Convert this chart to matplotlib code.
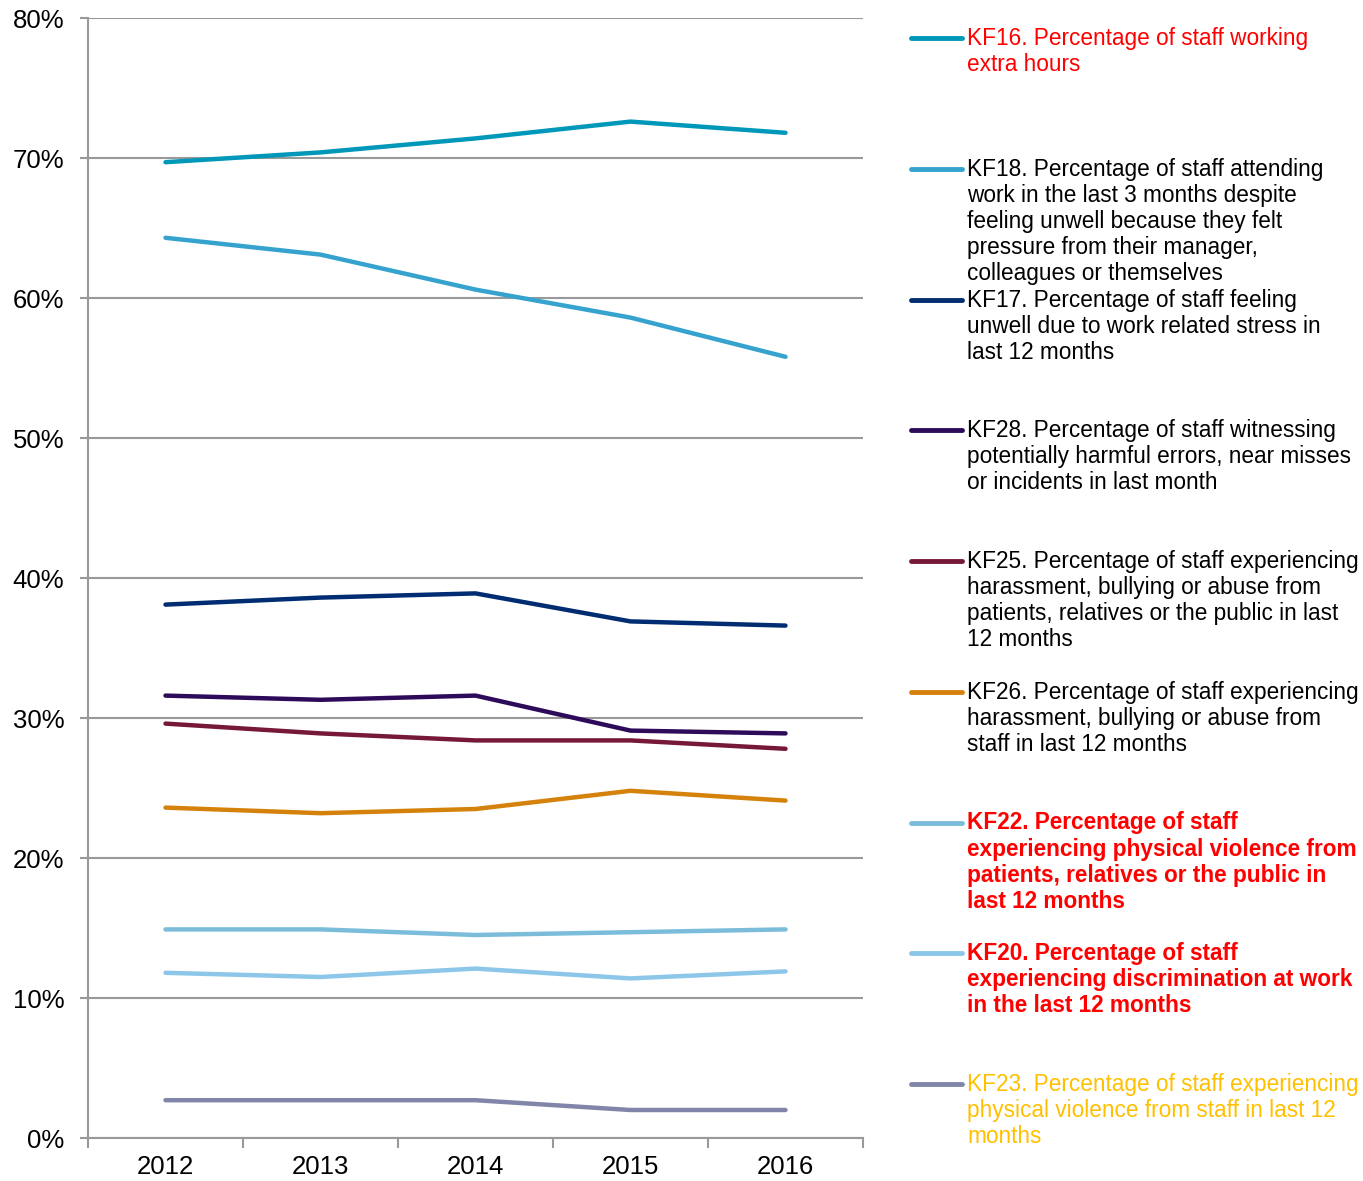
import matplotlib.pyplot as plt
from matplotlib.lines import Line2D

plt.rcParams['font.family'] = ['Liberation Sans', 'DejaVu Sans']

years = ['2012', '2013', '2014', '2015', '2016']

kf16 = [69.7, 70.4, 71.4, 72.6, 71.8]
kf18 = [64.3, 63.1, 60.6, 58.6, 55.8]
kf17 = [38.1, 38.6, 38.9, 36.9, 36.6]
kf28 = [31.6, 31.3, 31.6, 29.1, 28.9]
kf25 = [29.6, 28.9, 28.4, 28.4, 27.8]
kf26 = [23.6, 23.2, 23.5, 24.8, 24.1]
kf22 = [14.9, 14.9, 14.5, 14.7, 14.9]
kf20 = [11.8, 11.5, 12.1, 11.4, 11.9]
kf23 = [2.7, 2.7, 2.7, 2.0, 2.0]

labels = [
    "KF16. Percentage of staff working\nextra hours",
    "KF18. Percentage of staff attending\nwork in the last 3 months despite\nfeeling unwell because they felt\npressure from their manager,\ncolleagues or themselves",
    "KF17. Percentage of staff feeling\nunwell due to work related stress in\nlast 12 months",
    "KF28. Percentage of staff witnessing\npotentially harmful errors, near misses\nor incidents in last month",
    "KF25. Percentage of staff experiencing\nharassment, bullying or abuse from\npatients, relatives or the public in last\n12 months",
    "KF26. Percentage of staff experiencing\nharassment, bullying or abuse from\nstaff in last 12 months",
    "KF22. Percentage of staff\nexperiencing physical violence from\npatients, relatives or the public in\nlast 12 months",
    "KF20. Percentage of staff\nexperiencing discrimination at work\nin the last 12 months",
    "KF23. Percentage of staff experiencing\nphysical violence from staff in last 12\nmonths",
]
series = [kf16, kf18, kf17, kf28, kf25, kf26, kf22, kf20, kf23]
colors = ['#0097B8', '#36A3CE', '#002C72', '#2D0A5A', '#761838',
          '#D5820C', '#7CBCDB', '#8CC7E9', '#8185A9']
text_colors = ['#FF0000', 'black', 'black', 'black', 'black', 'black',
               '#FF0000', '#FF0000', '#FFC000']
weights = ['normal'] * 6 + ['bold', 'bold', 'normal']

W, H = 1363, 1181
fig = plt.figure(figsize=(W / 100, H / 100), dpi=100)
ax = fig.add_axes([88 / W, 1 - 1138 / H, (863 - 88) / W, (1138 - 18) / H])

x = range(len(years))
for vals, c in zip(series, colors):
    ax.plot(x, vals, color=c, lw=3.2, solid_capstyle='round', solid_joinstyle='round', zorder=3)

ax.set_xlim(-0.5, 4.5)
ax.set_ylim(0, 80)
ax.set_yticks(range(0, 81, 10))
ax.set_yticklabels([f"{v}%" for v in range(0, 81, 10)], fontsize=18.5)
ax.set_xticks([i - 0.5 for i in range(6)])
ax.set_xticklabels([])
ax.set_xticks(list(x), minor=True)
ax.set_xticklabels(years, minor=True, fontsize=18.5)
ax.tick_params(axis='x', which='minor', length=0, pad=12)
ax.tick_params(axis='x', which='major', length=7, width=1.5, color='#999999')
ax.tick_params(axis='y', length=6, width=1.5, color='#999999', pad=11)
ax.grid(axis='y', color='#999999', lw=1.5, zorder=0)
for s in ['top', 'right']:
    ax.spines[s].set_visible(False)
ax.spines['left'].set_color('#999999')
ax.spines['left'].set_linewidth(1.5)
ax.spines['bottom'].set_color('#999999')
ax.spines['bottom'].set_linewidth(1.5)

# legend drawn by hand on the right
y0, step = 38, 130.75
for i, (lab, c, tc, fw) in enumerate(zip(labels, colors, text_colors, weights)):
    yy = y0 + i * step
    fig.add_artist(Line2D([911 / W, 962 / W], [1 - yy / H, 1 - yy / H], color=c, lw=3.5,
                          solid_capstyle='round', transform=fig.transFigure))
    fig.text(967 / W, 1 - (yy - 11) / H, lab, color=tc, fontweight=fw, fontsize=16.3,
             va='top', ha='left', linespacing=1.17)

fig.savefig('out.png', dpi=100)
